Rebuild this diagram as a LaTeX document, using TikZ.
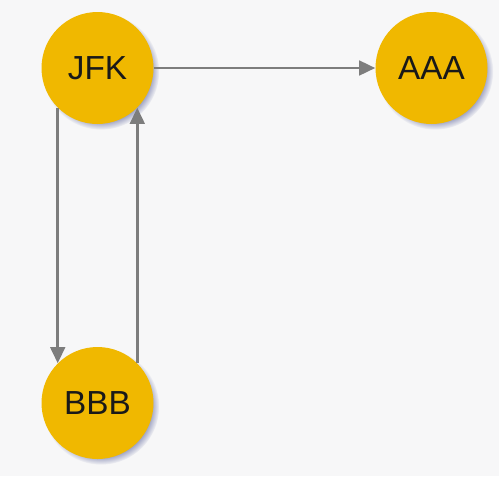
\documentclass[tikz,border=0pt]{standalone}
\usepackage{fontspec}
\setmainfont{Liberation Sans}
\usepackage{tikz}
\usetikzlibrary{shadows,arrows.meta}

\definecolor{bgGray}{RGB}{247,247,248}
\definecolor{airportFill}{RGB}{240,184,0}
\definecolor{edgeGray}{RGB}{125,125,125}
\definecolor{shadowBlue}{RGB}{150,155,190}

\tikzset{
  airport/.style={circle, fill=airportFill, minimum size=112*0.75pt, inner sep=0pt,
    font=\fontsize{25}{28}\selectfont, text={rgb,255:red,25;green,25;blue,25},
    circular drop shadow={shadow xshift=2.5pt, shadow yshift=-2.5pt, fill=shadowBlue, shadow scale=1.04}},
  flight/.style={draw=edgeGray, line width=1.9pt, -{Triangle[length=12pt,width=11pt]}}
}

\begin{document}
\begin{tikzpicture}[x=0.75pt,y=0.75pt,yscale=-1,xscale=1]
%background, sets the size of the diagram
\fill[bgGray] (0,0) rectangle (499,476);
\useasboundingbox (0,0) rectangle (499,476);

% Airport Nodes
\node [airport] (JFK) at (97.5,68) {JFK};
\node [airport] (AAA) at (431.5,68) {AAA};
\node [airport] (BBB) at (97.5,403) {BBB};

% Flights
\draw [flight] (JFK.east) -- (AAA.west);
\draw [flight] (JFK.225) -- (BBB.135);
\draw [flight] (BBB.45) -- (JFK.-45);

\end{tikzpicture}
\end{document}
